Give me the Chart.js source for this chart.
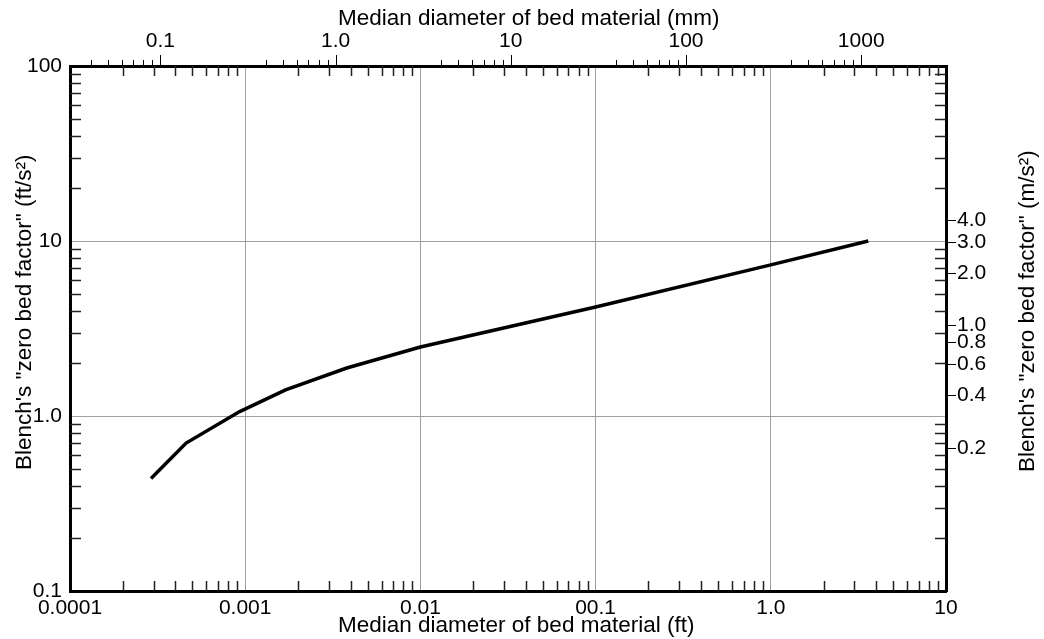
<!DOCTYPE html>
<html>
<head>
<meta charset="utf-8">
<script src="https://cdn.jsdelivr.net/npm/chart.js@4.4.0/dist/chart.umd.min.js"></script>
<style>
html, body { margin: 0; padding: 0; background: #fff; }
</style>
</head>
<body>
<canvas id="blenchChart" width="1044" height="639"></canvas>
<script>
// Blench zero bed factor vs median diameter
const diameterFt = [0.00029, 0.00046, 0.00093, 0.0017, 0.0038, 0.01, 0.1, 1.0, 3.6];
const zeroBedFactor = [0.44, 0.70, 1.06, 1.41, 1.88, 2.48, 4.2, 7.3, 10.0];

const ftTicks = [0.0001, 0.001, 0.01, 0.1, 1, 10];
const ftTickLabels = ['0.0001', '0.001', '0.01', '00.1', '1.0', '10'];
const mmTicks = [0.1, 1, 10, 100, 1000];
const mmTickLabels = ['0.1', '1.0', '10', '100', '1000'];
const factorTicks = [0.1, 1, 10, 100];
const factorTickLabels = ['0.1', '1.0', '10', '100'];
const metricTicks = [0.2, 0.4, 0.6, 0.8, 1, 2, 3, 4];
const metricTickLabels = ['0.2', '0.4', '0.6', '0.8', '1.0', '2.0', '3.0', '4.0'];

const FT_TO_MM = 304.8;
const FT_TO_M = 0.3048;
const FONT = "'Liberation Sans', Arial, sans-serif";

// minor tick marks + axis titles
const decorations = {
    id: 'decorations',
    afterDraw(chart) {
        const ctx = chart.ctx;
        const a = chart.chartArea;
        const x = chart.scales.x, y = chart.scales.y, x2 = chart.scales.x2;
        ctx.save();
        ctx.strokeStyle = '#222';
        ctx.lineWidth = 1.5;
        ctx.beginPath();
        // ft minors, inside, all four sides
        for (let d = 0.0001; d < 10; d *= 10) {
            for (let k = 2; k <= 9; k++) {
                const px = Math.round(x.getPixelForValue(k * d)) + 0.5;
                ctx.moveTo(px, a.bottom); ctx.lineTo(px, a.bottom - 10);
                ctx.moveTo(px, a.top); ctx.lineTo(px, a.top + 10);
            }
        }
        for (let d = 0.1; d < 100; d *= 10) {
            for (let k = 2; k <= 9; k++) {
                const py = Math.round(y.getPixelForValue(k * d)) + 0.5;
                ctx.moveTo(a.left, py); ctx.lineTo(a.left + 11, py);
                ctx.moveTo(a.right, py); ctx.lineTo(a.right - 11, py);
            }
        }
        ctx.stroke();
        // mm ticks, outside on top
        ctx.strokeStyle = '#000';
        ctx.lineWidth = 1;
        ctx.beginPath();
        for (let d = 0.01; d < 1000; d *= 10) {
            for (let k = 4; k <= 10; k++) {
                const v = k * d;
                if (v < x2.min || v > x2.max) continue;
                const px = Math.round(x2.getPixelForValue(v)) + 0.5;
                ctx.moveTo(px, a.top); ctx.lineTo(px, a.top - (k === 10 ? 11 : 6));
            }
        }
        ctx.stroke();

        // axis titles
        ctx.fillStyle = '#000';
        ctx.font = '22.5px ' + FONT;
        ctx.textAlign = 'left';
        ctx.textBaseline = 'middle';
        ctx.fillText('Median diameter of bed material (mm)', 338, 19);
        ctx.fillText('Median diameter of bed material (ft)', 338, 626);
        ctx.save();
        ctx.translate(25, 470);
        ctx.rotate(-Math.PI / 2);
        ctx.fillText('Blench\'s "zero bed factor" (ft/s\u00B2)', 0, 0);
        ctx.restore();
        ctx.save();
        ctx.translate(1028, 472);
        ctx.rotate(-Math.PI / 2);
        ctx.fillText('Blench\'s "zero bed factor" (m/s\u00B2)', 0, 0);
        ctx.restore();
        ctx.restore();
    }
};

const tickFont = { family: FONT, size: 21 };
const gridGray = '#a0a0a0';

const ctx = document.getElementById('blenchChart').getContext('2d');
const blenchChart = new Chart(ctx, {
    type: 'line',
    data: {
        datasets: [{
            label: 'Zero bed factor',
            data: diameterFt.map((d, i) => ({ x: d, y: zeroBedFactor[i] })),
            borderColor: '#000',
            borderWidth: 3.5,
            pointRadius: 0,
            tension: 0,
            fill: false
        }]
    },
    options: {
        responsive: false,
        animation: false,
        devicePixelRatio: 1,
        layout: { padding: 0 },
        plugins: {
            legend: { display: false },
            tooltip: { enabled: false }
        },
        scales: {
            x: {
                type: 'logarithmic',
                position: 'bottom',
                min: 0.0001,
                max: 10,
                afterBuildTicks: s => { s.ticks = ftTicks.map(v => ({ value: v })); },
                afterFit: s => { s.height = 48; },
                ticks: {
                    callback: (v, i) => ftTickLabels[i],
                    font: tickFont,
                    color: '#000',
                    padding: 5,
                    maxRotation: 0,
                    autoSkip: false
                },
                grid: { color: gridGray, lineWidth: 1, drawTicks: false },
                border: { color: '#000', width: 3 }
            },
            x2: {
                type: 'logarithmic',
                position: 'top',
                min: 0.0001 * FT_TO_MM,
                max: 10 * FT_TO_MM,
                afterBuildTicks: s => { s.ticks = mmTicks.map(v => ({ value: v })); },
                afterFit: s => { s.height = 66; },
                ticks: {
                    callback: (v, i) => mmTickLabels[i],
                    font: tickFont,
                    color: '#000',
                    padding: 12,
                    maxRotation: 0,
                    autoSkip: false
                },
                grid: { drawOnChartArea: false, drawTicks: false },
                border: { color: '#000', width: 3 }
            },
            y: {
                type: 'logarithmic',
                position: 'left',
                min: 0.1,
                max: 100,
                afterBuildTicks: s => { s.ticks = factorTicks.map(v => ({ value: v })); },
                afterFit: s => { s.width = 70; },
                ticks: {
                    callback: (v, i) => factorTickLabels[i],
                    font: tickFont,
                    color: '#000',
                    padding: 8,
                    autoSkip: false
                },
                grid: { color: gridGray, lineWidth: 1, drawTicks: false },
                border: { color: '#000', width: 3 }
            },
            y2: {
                type: 'logarithmic',
                position: 'right',
                min: 0.1 * FT_TO_M,
                max: 100 * FT_TO_M,
                afterBuildTicks: s => { s.ticks = metricTicks.map(v => ({ value: v })); },
                afterFit: s => { s.width = 98; },
                ticks: {
                    callback: (v, i) => metricTickLabels[i],
                    font: tickFont,
                    color: '#000',
                    padding: 1,
                    autoSkip: false
                },
                grid: { drawOnChartArea: false, drawTicks: true, tickLength: 10, tickColor: '#000', tickWidth: 1 },
                border: { color: '#000', width: 3 }
            }
        }
    },
    plugins: [decorations]
});
</script>
</body>
</html>
